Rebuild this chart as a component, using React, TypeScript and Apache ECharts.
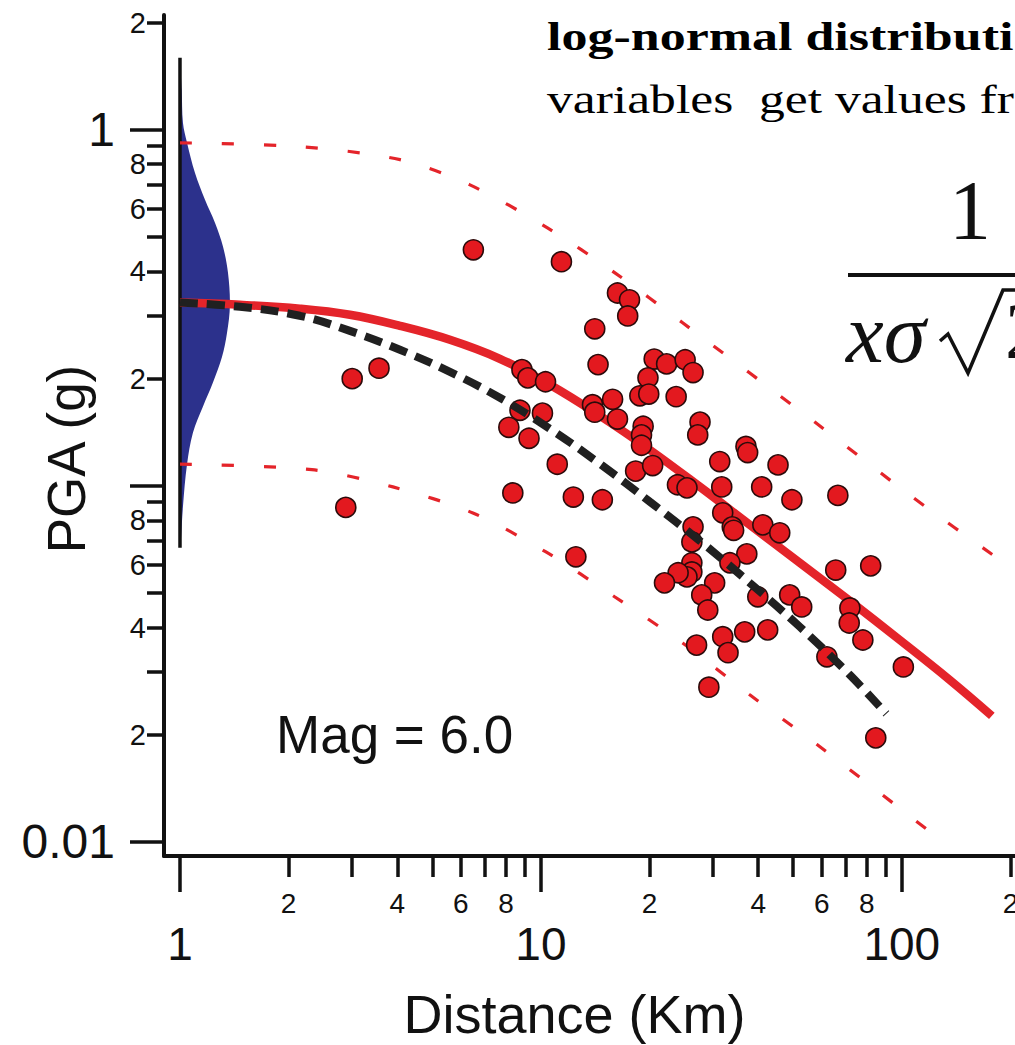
import React, { useEffect, useRef } from 'react';
import * as echarts from 'echarts';

// ---------- data ----------
const scatterDist = [2.88, 3.0, 3.56, 6.5, 11.4, 16.3, 17.6, 17.4, 14.1, 14.4, 20.6, 22.3, 25.1, 26.4, 19.8, 18.8, 19.9, 23.7, 8.86, 9.2, 10.3, 13.9, 14.1, 15.8, 16.3, 19.2, 19.0, 19.0, 8.75, 10.1, 8.15, 9.27, 11.1, 18.3, 20.4, 23.9, 25.4, 8.36, 12.3, 14.8, 27.6, 27.2, 37.0, 37.4, 31.3, 45.4, 31.7, 40.9, 49.6, 66.5, 31.9, 33.9, 34.2, 41.2, 45.9, 26.4, 26.2, 12.5, 37.2, 33.4, 26.2, 26.2, 25.4, 24.0, 22.0, 30.3, 27.9, 29.0, 39.9, 48.9, 52.8, 71.8, 71.5, 78.0, 65.6, 82.0, 27.0, 31.9, 33.0, 36.7, 42.5, 62.0, 101, 29.2, 84.7];
const scatterPga = [0.087, 0.20, 0.214, 0.46, 0.426, 0.348, 0.333, 0.30, 0.276, 0.219, 0.227, 0.22, 0.226, 0.208, 0.201, 0.179, 0.181, 0.178, 0.212, 0.201, 0.196, 0.169, 0.161, 0.175, 0.154, 0.147, 0.139, 0.13, 0.163, 0.16, 0.146, 0.136, 0.115, 0.110, 0.114, 0.1007, 0.0987, 0.0955, 0.093, 0.0914, 0.151, 0.139, 0.129, 0.124, 0.117, 0.1145, 0.0993, 0.0993, 0.0914, 0.094, 0.084, 0.0767, 0.075, 0.0777, 0.0738, 0.0767, 0.0696, 0.0632, 0.0644, 0.0608, 0.0608, 0.0573, 0.0555, 0.057, 0.0534, 0.0534, 0.0494, 0.0448, 0.0488, 0.0494, 0.0457, 0.0454, 0.0412, 0.0369, 0.058, 0.0596, 0.0357, 0.0377, 0.034, 0.0389, 0.0394, 0.0331, 0.031, 0.0272, 0.0196];

const medianDist = [1, 1.466, 2.148, 2.957, 4.068, 5.597, 7.698, 10.59, 14.57, 20.04, 27.57, 37.93, 52.19, 71.78, 98.74, 135.8, 177.6];
const medianPga = [0.327, 0.3224, 0.3144, 0.3022, 0.2814, 0.2571, 0.2274, 0.1922, 0.1573, 0.1262, 0.0994, 0.0777, 0.0608, 0.0475, 0.0369, 0.0285, 0.0226];

const altDist = [1, 1.466, 2.148, 2.957, 4.068, 5.597, 7.698, 10.59, 14.57, 20.04, 27.57, 37.93, 52.19, 71.78, 90.6];
const altPga = [0.327, 0.3183, 0.3003, 0.2724, 0.241, 0.209, 0.1767, 0.1446, 0.1153, 0.0902, 0.07007, 0.05338, 0.04017, 0.02944, 0.0229];

const upperDist = [1, 2.15, 4.07, 6.36, 10.4, 16.0, 24.7, 57.4, 107, 200];
const upperPga = [0.919, 0.896, 0.824, 0.70, 0.531, 0.397, 0.287, 0.151, 0.093, 0.059];

const lowerDist = [1, 2.32, 3.89, 6.48, 10.3, 16.0, 24.7, 37.9, 58.1, 88.0, 130];
const lowerPga = [0.115, 0.111, 0.0993, 0.0839, 0.0653, 0.0488, 0.0362, 0.0259, 0.0188, 0.0136, 0.0100];

// blue spread at distance 1: right edge (in km) at each PGA level
const spreadPga = [1.593, 1.295, 1.046, 0.919, 0.757, 0.636, 0.548, 0.469, 0.397, 0.322, 0.269, 0.230, 0.195, 0.167, 0.141, 0.115, 0.0873, 0.0706, 0.067];
const spreadEdge = [1.0, 1.011, 1.019, 1.046, 1.10, 1.173, 1.25, 1.316, 1.358, 1.375, 1.35, 1.307, 1.234, 1.158, 1.086, 1.046, 1.019, 1.006, 1.0];
const spreadLineDist = [1, 1];
const spreadLinePga = [1.593, 0.067];

// ticks
const xMajorTicks = [1, 10, 100];
const xMinorTicks = [2, 3, 4, 5, 6, 7, 8, 9, 20, 30, 40, 50, 60, 70, 80, 90, 200];
const xMinorLabels = [2, 4, 6, 8, 20, 40, 60, 80, 200];
const yMajorTicks = [0.01, 0.1, 1];
const yMajorLabels = [0.01, 1];
const yMinorTicks = [0.02, 0.03, 0.04, 0.05, 0.06, 0.07, 0.08, 0.09, 0.2, 0.3, 0.4, 0.5, 0.6, 0.7, 0.8, 0.9, 2];
const yMinorLabels = [0.02, 0.04, 0.06, 0.08, 0.2, 0.4, 0.6, 0.8, 2];

const X_MIN = 0.903;
const X_MAX = 300;
const Y_MIN = 0.00913;
const Y_MAX = 2.1;

// ---------- styles ----------
const SANS = '"Liberation Sans", Arial, sans-serif';
const SERIF = '"Liberation Serif", "Times New Roman", serif';
const INK = '#111111';
const RED = '#e4242a';
const BLUE = '#2c318c';

const leadDigit = (v: number) =>
  String(Math.round(v / Math.pow(10, Math.floor(Math.log10(v) + 1e-9))));

const pairs = (a: number[], b: number[]) => a.map((v, i) => [v, b[i]]);

function textEl(x: number, y: number, text: string, style: any, extra: any = {}) {
  const align = style.align || 'left';
  return {
    type: 'text',
    x,
    y,
    ...extra,
    style: {
      text,
      fill: INK,
      align,
      textAlign: align,
      verticalAlign: 'middle',
      textVerticalAlign: 'middle',
      ...style,
    },
  };
}

function buildOption(): any {
  const axisCommonX = {
    type: 'log',
    logBase: 10,
    position: 'bottom',
    min: X_MIN,
    max: X_MAX,
    splitLine: { show: false },
    minorTick: { show: false },
    minorSplitLine: { show: false },
  };
  const axisCommonY = {
    type: 'log',
    logBase: 10,
    position: 'left',
    min: Y_MIN,
    max: Y_MAX,
    splitLine: { show: false },
    minorTick: { show: false },
    minorSplitLine: { show: false },
  };
  return {
    animation: false,
    backgroundColor: '#ffffff',
    textStyle: { fontFamily: SANS },
    grid: { left: 164, top: 15, width: 910, height: 841, containLabel: false, outerBoundsMode: 'none' },
    xAxis: [
      {
        ...axisCommonX,
        name: 'Distance (Km)',
        nameLocation: 'middle',
        nameGap: 131,
        nameMoveOverlap: false,
        nameTextStyle: { fontSize: 54, fontFamily: SANS, color: INK, padding: [0, 89, 0, 0] },
        axisLine: { show: true, onZero: false, lineStyle: { color: INK, width: 4 } },
        axisTick: { show: true, inside: false, length: 36, lineStyle: { color: INK, width: 3.5 }, customValues: xMajorTicks },
        axisLabel: { show: true, margin: 65, fontSize: 46, fontFamily: SANS, color: INK, customValues: xMajorTicks, formatter: (v: number) => String(v) },
      },
      {
        ...axisCommonX,
        axisLine: { show: false, onZero: false },
        axisTick: { show: true, inside: false, length: 21, lineStyle: { color: INK, width: 3.5 }, customValues: xMinorTicks },
        axisLabel: { show: true, margin: 33, fontSize: 28, fontFamily: SANS, color: INK, customValues: xMinorLabels, formatter: leadDigit },
      },
    ],
    yAxis: [
      {
        ...axisCommonY,
        name: 'PGA (g)',
        nameLocation: 'middle',
        nameGap: 71,
        nameMoveOverlap: false,
        nameTextStyle: { fontSize: 53, fontFamily: SANS, color: INK, padding: [0, 47, 0, 0] },
        axisLine: { show: true, onZero: false, lineStyle: { color: INK, width: 4 } },
        axisTick: { show: true, inside: false, length: 34, lineStyle: { color: INK, width: 3.5 }, customValues: yMajorTicks },
        axisLabel: { show: true, margin: 49, fontSize: 48, fontFamily: SANS, color: INK, customValues: yMajorLabels, formatter: (v: number) => String(v) },
      },
      {
        ...axisCommonY,
        axisLine: { show: false, onZero: false },
        axisTick: { show: true, inside: false, length: 17, lineStyle: { color: INK, width: 3.5 }, customValues: yMinorTicks },
        axisLabel: { show: true, margin: 18, fontSize: 29, fontFamily: SANS, color: INK, customValues: yMinorLabels, formatter: leadDigit },
      },
    ],
    series: [
      {
        type: 'custom',
        name: 'spread',
        xAxisIndex: 0,
        yAxisIndex: 0,
        z: 1,
        silent: true,
        data: [[spreadEdge[0], spreadPga[0]]],
        renderItem: (params: any, api: any) => {
          const pts = spreadPga.map((p, i) => api.coord([spreadEdge[i], p]));
          return {
            type: 'polyline',
            shape: { points: pts, smooth: 0.35 },
            style: { fill: BLUE, stroke: null, lineWidth: 0 },
          };
        },
      },
      {
        type: 'line',
        name: 'spreadAxis',
        z: 2,
        silent: true,
        symbol: 'none',
        data: pairs(spreadLineDist, spreadLinePga),
        lineStyle: { color: INK, width: 3.5 },
      },
      {
        type: 'line',
        name: 'upper',
        z: 3,
        silent: true,
        symbol: 'none',
        smooth: 0.3,
        data: pairs(upperDist, upperPga),
        lineStyle: { color: RED, width: 3.2, type: [12, 30], cap: 'butt' },
      },
      {
        type: 'line',
        name: 'lower',
        z: 3,
        silent: true,
        symbol: 'none',
        smooth: 0.3,
        data: pairs(lowerDist, lowerPga),
        lineStyle: { color: RED, width: 3.2, type: [12, 30], cap: 'butt' },
      },
      {
        type: 'line',
        name: 'median',
        z: 4,
        silent: true,
        symbol: 'none',
        smooth: 0.4,
        data: pairs(medianDist, medianPga),
        lineStyle: { color: RED, width: 8.5, cap: 'butt' },
      },
      {
        type: 'scatter',
        name: 'records',
        z: 5,
        symbol: 'circle',
        symbolSize: 20,
        data: pairs(scatterDist, scatterPga),
        itemStyle: { color: '#e3191f', borderColor: '#2b0b0b', borderWidth: 1.6, opacity: 1 },
      },
      {
        type: 'line',
        name: 'alternative',
        z: 6,
        silent: true,
        symbol: 'none',
        smooth: 0.4,
        data: pairs(altDist, altPga),
        lineStyle: { color: '#202020', width: 8, type: [18, 9], cap: 'butt' },
      },
    ],
    graphic: [
      textEl(547, 37, 'log-normal distributi', { fontSize: 40, fontWeight: 'bold', fontFamily: SERIF, fill: '#000' }, { scaleX: 1.3 }),
      textEl(547, 100, 'variables\u00a0\u00a0get values fr', { fontSize: 40, fontFamily: SERIF, fill: '#000' }, { scaleX: 1.29 }),
      textEl(970, 210, '1', { fontSize: 84, fontFamily: SERIF, align: 'center' }),
      {
        type: 'rect',
        shape: { x: 848, y: 273, width: 220, height: 4 },
        style: { fill: INK },
      },
      textEl(846, 333, 'xσ', { fontSize: 85, fontStyle: 'italic', fontFamily: SERIF }),
      {
        type: 'polyline',
        shape: { points: [[940, 341], [948, 334], [968, 373], [1003, 290], [1070, 290]] },
        style: { stroke: INK, lineWidth: 3.5, fill: null },
      },
      textEl(1005, 331, '2', { fontSize: 80, fontFamily: SERIF }),
      textEl(276, 734, 'Mag = 6.0', { fontSize: 53, fontFamily: SANS }),
    ],
  };
}

export default function App() {
  const ref = useRef<HTMLDivElement>(null);
  useEffect(() => {
    if (!ref.current) return;
    const chart = echarts.init(ref.current, null, { renderer: 'svg' });
    chart.setOption(buildOption());
    return () => {
      chart.dispose();
    };
  }, []);
  return (
    <div
      ref={ref}
      style={{ position: 'fixed', left: 0, top: 0, width: 1015, height: 1045, background: '#ffffff' }}
    />
  );
}
